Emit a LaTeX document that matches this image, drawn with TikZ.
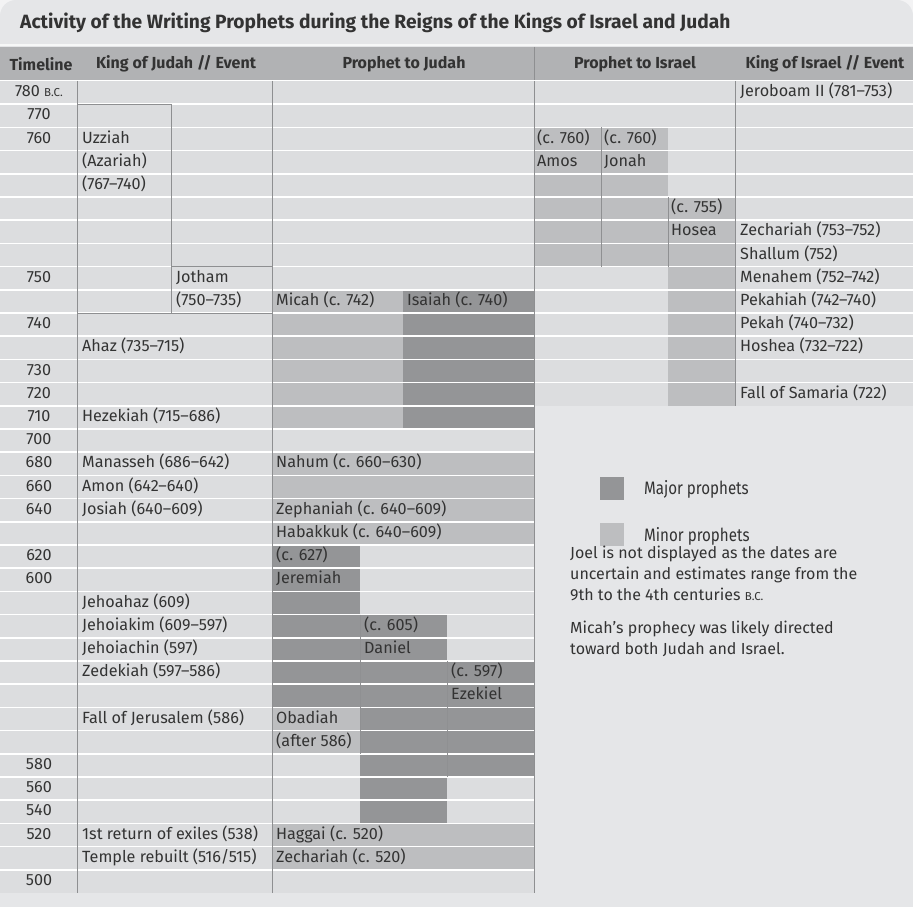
\documentclass[tikz,border=0pt]{standalone}
\usepackage{fontspec}
\setmainfont{Fira Sans}
\definecolor{pagebg}{HTML}{F3F3F4}
\definecolor{panelbg}{HTML}{E5E6E8}
\definecolor{cellbg}{HTML}{DCDDDF}
\definecolor{hdrbg}{HTML}{B1B2B4}
\definecolor{minorfill}{HTML}{BDBEC0}
\definecolor{majorfill}{HTML}{949597}
\definecolor{rulegray}{HTML}{8E8F91}
\definecolor{ink}{HTML}{333333}
\newcommand{\bc}{{\fontsize{11.5}{12}\selectfont B.C.}}
\begin{document}
\begin{tikzpicture}[
    x=1pt, y=-1pt,
    lbl/.style={anchor=west, inner sep=0pt, text height=11.5pt, text depth=3.5pt,
                font=\fontsize{16.2}{18}\selectfont, text=ink},
    yr/.style={lbl, anchor=center},
    head/.style={inner sep=0pt, font=\bfseries\fontsize{16}{18}\selectfont, text=ink},
    sep/.style={draw=white, line width=1.6pt},
    rule/.style={draw=rulegray, line width=0.8pt},
    faint/.style={draw=rulegray!80!majorfill, line width=0.6pt},
    minor/.style={fill=minorfill},
    major/.style={fill=majorfill},
    legend/.style={anchor=west, inner sep=0pt, text=ink}
]
\useasboundingbox (0,0) rectangle (913,907);
\clip (0,0) rectangle (913,907);

% Panel and title
\fill[pagebg] (0,0) rectangle (913,907);
\fill[panelbg, rounded corners=16pt] (0,0) rectangle (913,960);
\node[anchor=west, inner sep=0pt, font=\bfseries\fontsize{19.2}{22}\selectfont, text=ink]
    (title) at (20,23) {Activity of the Writing Prophets during the Reigns of the Kings of Israel and Judah};
\draw[white!70!panelbg, line width=2pt] (0,45) -- (913,45);

% Header bar
\fill[hdrbg] (0,47) rectangle (913,81);
\node[head] (hTime) at (41,64) {Timeline};
\node[head] (hJudahKing) at (176,64) {King of Judah // Event};
\node[head] (hJudahProph) at (404,64) {Prophet to Judah};
\node[head] (hIsraelProph) at (635,64) {Prophet to Israel};
\node[head] (hIsraelKing) at (825,64) {King of Israel // Event};
\draw[rule] (534,47) -- (534,81);

\begin{scope}[shift={(0pt,-81pt)}, y=-23.2pt]

% Cell backgrounds
\fill[cellbg] (0,0) rectangle (534,35);
\fill[cellbg] (534,0) rectangle (913,14);

% Prophets to Judah
\fill[minor] (272,9) rectangle (403,15);
\fill[major] (403,9) rectangle (534,15);
\fill[minor] (272,16) rectangle (534,20);
\fill[major] (272,20) rectangle (360,27);
\fill[major] (360,23) rectangle (447,32);
\fill[major] (447,25) rectangle (534,30);
\fill[minor] (272,27) rectangle (360,29);
\fill[minor] (272,32) rectangle (534,34);

% Prophets to Israel
\fill[minor] (534,2) rectangle (601,8);
\fill[minor] (601,2) rectangle (668,8);
\fill[minor] (668,5) rectangle (735,14);

% Row separators
\draw[sep, line width=1pt] (0,0) -- (913,0);
\foreach \r in {1,...,34} \draw[sep] (0,\r) -- (534,\r);
\foreach \r in {1,...,13} \draw[sep] (534,\r) -- (913,\r);

% Column rules
\draw[rule] (77,0) -- (77,35);
\draw[rule] (272,0) -- (272,35);
\draw[rule] (534,0) -- (534,35);
\draw[rule] (735,0) -- (735,14);
\draw[rule] (171,1) -- (171,10);
\draw[rule] (77,1) -- (171,1);
\draw[rule] (171,8) -- (272,8);
\draw[rule] (77,10) -- (272,10);
\draw[faint] (601,2) -- (601,8);
\draw[faint] (668,5) -- (668,8);
\draw[faint] (360,23) -- (360,29);
\draw[faint] (447,25) -- (447,30);

% Timeline
\node[yr] (t780) at (39,0.5) {780 \bc};
\node[yr] (t770) at (39,1.5) {770};
\node[yr] (t760) at (39,2.5) {760};
\node[yr] (t750) at (39,8.5) {750};
\node[yr] (t740) at (39,10.5) {740};
\node[yr] (t730) at (39,12.5) {730};
\node[yr] (t720) at (39,13.5) {720};
\node[yr] (t710) at (39,14.5) {710};
\node[yr] (t700) at (39,15.5) {700};
\node[yr] (t680) at (39,16.5) {680};
\node[yr] (t660) at (39,17.5) {660};
\node[yr] (t640) at (39,18.5) {640};
\node[yr] (t620) at (39,20.5) {620};
\node[yr] (t600) at (39,21.5) {600};
\node[yr] (t580) at (39,29.5) {580};
\node[yr] (t560) at (39,30.5) {560};
\node[yr] (t540) at (39,31.5) {540};
\node[yr] (t520) at (39,32.5) {520};
\node[yr] (t500) at (39,34.5) {500};

% Kings of Judah // events
\node[lbl] (uzziah) at (82,2.5) {Uzziah};
\node[lbl] (azariah) at (82,3.5) {(Azariah)};
\node[lbl] (uzziahYrs) at (82,4.5) {(767--740)};
\node[lbl] (jotham) at (176,8.5) {Jotham};
\node[lbl] (jothamYrs) at (176,9.5) {(750--735)};
\node[lbl] (ahaz) at (82,11.5) {Ahaz (735--715)};
\node[lbl] (hezekiah) at (82,14.5) {Hezekiah (715--686)};
\node[lbl] (manasseh) at (82,16.5) {Manasseh (686--642)};
\node[lbl] (amon) at (82,17.5) {Amon (642--640)};
\node[lbl] (josiah) at (82,18.5) {Josiah (640--609)};
\node[lbl] (jehoahaz) at (82,22.5) {Jehoahaz (609)};
\node[lbl] (jehoiakim) at (82,23.5) {Jehoiakim (609--597)};
\node[lbl] (jehoiachin) at (82,24.5) {Jehoiachin (597)};
\node[lbl] (zedekiah) at (82,25.5) {Zedekiah (597--586)};
\node[lbl] (fallJerusalem) at (82,27.5) {Fall of Jerusalem (586)};
\node[lbl] (firstReturn) at (82,32.5) {1st return of exiles (538)};
\node[lbl] (templeRebuilt) at (82,33.5) {Temple rebuilt (516/515)};

% Prophets to Judah
\node[lbl] (micah) at (276,9.5) {Micah (c. 742)};
\node[lbl] (isaiah) at (407,9.5) {Isaiah (c. 740)};
\node[lbl] (nahum) at (276,16.5) {Nahum (c. 660--630)};
\node[lbl] (zephaniah) at (276,18.5) {Zephaniah (c. 640--609)};
\node[lbl] (habakkuk) at (276,19.5) {Habakkuk (c. 640--609)};
\node[lbl] (jeremiahDate) at (276,20.5) {(c. 627)};
\node[lbl] (jeremiah) at (276,21.5) {Jeremiah};
\node[lbl] (danielDate) at (364,23.5) {(c. 605)};
\node[lbl] (daniel) at (364,24.5) {Daniel};
\node[lbl] (ezekielDate) at (451,25.5) {(c. 597)};
\node[lbl] (ezekiel) at (451,26.5) {Ezekiel};
\node[lbl] (obadiah) at (276,27.5) {Obadiah};
\node[lbl] (obadiahDate) at (276,28.5) {(after 586)};
\node[lbl] (haggai) at (276,32.5) {Haggai (c. 520)};
\node[lbl] (zechariahJ) at (276,33.5) {Zechariah (c. 520)};

% Prophets to Israel
\node[lbl] (amosDate) at (537,2.5) {(c. 760)};
\node[lbl] (amos) at (537,3.5) {Amos};
\node[lbl] (jonahDate) at (604,2.5) {(c. 760)};
\node[lbl] (jonah) at (604,3.5) {Jonah};
\node[lbl] (hoseaDate) at (671,5.5) {(c. 755)};
\node[lbl] (hosea) at (671,6.5) {Hosea};

% Kings of Israel // events
\node[lbl] (jeroboam) at (740,0.5) {Jeroboam II (781--753)};
\node[lbl] (zechariahI) at (740,6.5) {Zechariah (753--752)};
\node[lbl] (shallum) at (740,7.5) {Shallum (752)};
\node[lbl] (menahem) at (740,8.5) {Menahem (752--742)};
\node[lbl] (pekahiah) at (740,9.5) {Pekahiah (742--740)};
\node[lbl] (pekah) at (740,10.5) {Pekah (740--732)};
\node[lbl] (hoshea) at (740,11.5) {Hoshea (732--722)};
\node[lbl] (fallSamaria) at (740,13.5) {Fall of Samaria (722)};
\end{scope}

% Legend
\fill[majorfill] (600,477) rectangle (624,500);
\node[legend] (majorKey) at (644,489) {\scalebox{0.84}[1]{\fontsize{18}{20}\selectfont Major prophets}};
\fill[minorfill] (600,523) rectangle (624,546);
\node[legend] (minorKey) at (644,536) {\scalebox{0.84}[1]{\fontsize{18}{20}\selectfont Minor prophets}};
\node[legend, anchor=north west, align=left, font=\fontsize{16}{21}\selectfont]
    (joelNote) at (570,546) {Joel is not displayed as the dates are\\uncertain and estimates range from the\\9th to the 4th centuries \bc};
\node[legend, anchor=north west, align=left, font=\fontsize{16}{21}\selectfont]
    (micahNote) at (570,621) {Micah’s prophecy was likely directed\\toward both Judah and Israel.};

\end{tikzpicture}
\end{document}
